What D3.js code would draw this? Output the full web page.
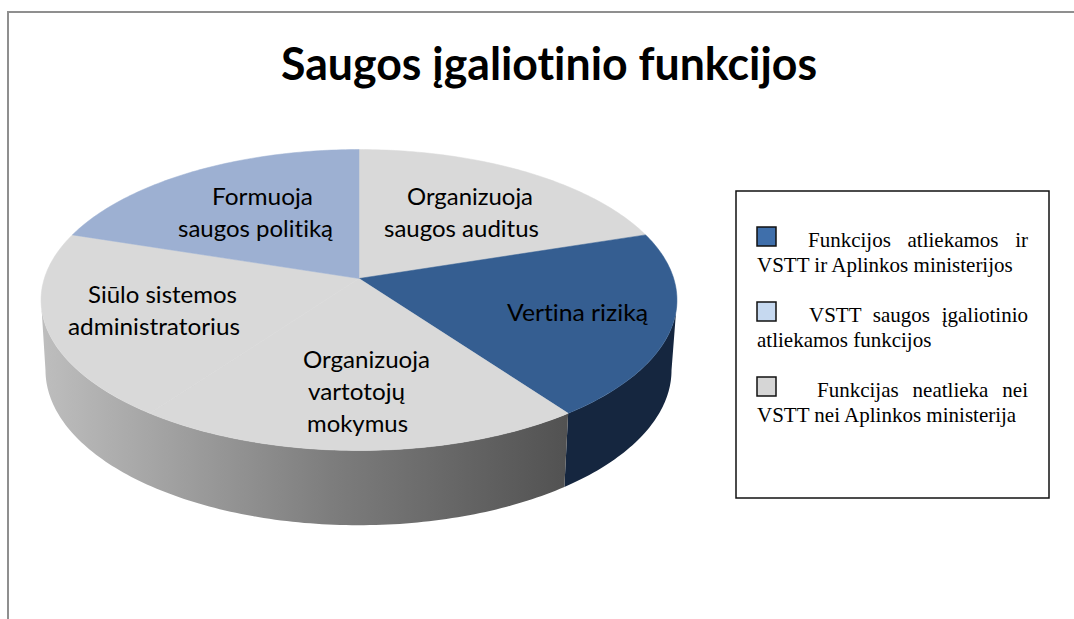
<!DOCTYPE html>
<html>
<head>
<meta charset="utf-8">
<script src="https://cdnjs.cloudflare.com/ajax/libs/d3/7.8.5/d3.min.js"></script>
<style>
  html, body { margin: 0; padding: 0; background: #fff; overflow: hidden; }
  svg { display: block; }
  text { font-variant-ligatures: none; }
</style>
</head>
<body>
<div id="chart"></div>
<script>
// chart data
const chartTitle = "Saugos įgaliotinio funkcijos";
const categories = ["Organizuoja saugos auditus", "Vertina riziką", "Organizuoja vartotojų mokymus", "Siūlo sistemos administratorius", "Formuoja saugos politiką"];
const values = [20, 20, 20, 20, 20];
const sliceGroups = [2, 0, 2, 2, 1];
const legendLines = [
  ["Funkcijos atliekamos ir", "VSTT ir Aplinkos ministerijos"],
  ["VSTT saugos įgaliotinio", "atliekamos funkcijos"],
  ["Funkcijas neatlieka nei", "VSTT nei Aplinkos ministerija"]
];

// colours per legend group
const topColors = ["#355e91", "#9db0d2", "#d9d9d9"];
const legendColors = ["#3f6fab", "#c6d9f0", "#d6d6d6"];

const width = 1074, height = 619;

const svg = d3.select("#chart").append("svg")
  .attr("width", width)
  .attr("height", height);

// outer frame, cut off on the right and bottom
svg.append("path")
  .attr("d", "M8,619V12H1074")
  .attr("fill", "none")
  .attr("stroke", "#8f8f8f")
  .attr("stroke-width", 2);

svg.append("text")
  .attr("x", 281)
  .attr("y", 80)
  .attr("font-family", "Lato")
  .attr("font-weight", "bold")
  .attr("font-size", 45)
  .attr("textLength", 536)
  .attr("lengthAdjust", "spacingAndGlyphs")
  .attr("fill", "#000")
  .text(chartTitle);

// perspective of the 3D disc: same tilt for both planes
const tilt = 0.1429;
const topPlane = { cx: 359, cy: 278.5, rx: 314.7, ry: 147.4 };
const bottomPlane = { cx: 358.5, cy: 348, rx: 309.8, ry: 151.9 };

function project(plane, a) {
  const X = Math.sin(a), Y = -Math.cos(a);
  const k = 1 - tilt * Y;
  return [plane.cx + plane.rx * X / k, plane.cy + plane.ry * Y / k];
}

function rimPoints(plane, a0, a1) {
  const n = Math.max(2, Math.ceil((a1 - a0) * 60));
  return d3.range(n + 1).map(i => project(plane, a0 + (a1 - a0) * i / n));
}

const line = d3.line();
const pie = d3.pie().sort(null).value(d => d);
const slices = pie(values);

// only the front half of the side wall can be seen
const frontStart = Math.acos(-tilt);
const frontEnd = 2 * Math.PI - frontStart;

const defs = svg.append("defs");
const sideGrad = defs.append("linearGradient")
  .attr("id", "sideGrey")
  .attr("gradientUnits", "userSpaceOnUse")
  .attr("x1", 45).attr("x2", 566)
  .attr("y1", 0).attr("y2", 0);
sideGrad.append("stop").attr("offset", 0).attr("stop-color", "#bdbdbd");
sideGrad.append("stop").attr("offset", 0.55).attr("stop-color", "#7d7d7d");
sideGrad.append("stop").attr("offset", 1).attr("stop-color", "#525252");

const sideColors = ["#15263f", null, "url(#sideGrey)"];

// side wall: neighbouring slices of one group are joined, so the gradient has no seam
const sideRuns = [];
slices.forEach((s, i) => {
  const a0 = Math.max(s.startAngle, frontStart);
  const a1 = Math.min(s.endAngle, frontEnd);
  if (a0 >= a1) return;
  const last = sideRuns[sideRuns.length - 1];
  if (last && last.group === sliceGroups[i]) last.a1 = a1;
  else sideRuns.push({ group: sliceGroups[i], a0: a0, a1: a1 });
});

sideRuns.forEach(run => {
  const pts = rimPoints(topPlane, run.a0, run.a1).concat(rimPoints(bottomPlane, run.a0, run.a1).reverse());
  svg.append("path")
    .attr("d", line(pts) + "Z")
    .attr("fill", sideColors[run.group]);
});

// top face
slices.forEach((s, i) => {
  const pts = [[topPlane.cx, topPlane.cy]].concat(rimPoints(topPlane, s.startAngle, s.endAngle));
  svg.append("path")
    .attr("d", line(pts) + "Z")
    .attr("fill", topColors[sliceGroups[i]])
    .attr("stroke", topColors[sliceGroups[i]])
    .attr("stroke-width", 0.5);
});

// slice labels, line by line: [text, left, right, baseline]
const sliceLabels = [
  ["Organizuoja", 407, 533, 205], ["saugos auditus", 384, 539, 237],
  ["Vertina riziką", 507, 648, 321],
  ["Organizuoja", 303, 430, 368], ["vartotojų", 308, 405, 400], ["mokymus", 307, 408, 432],
  ["Siūlo sistemos", 88, 237, 303], ["administratorius", 68, 240, 335],
  ["Formuoja", 212, 313, 205], ["saugos politiką", 178, 333, 237]
];

svg.append("g").selectAll("text")
  .data(sliceLabels)
  .enter()
  .append("text")
  .attr("x", d => d[1])
  .attr("y", d => d[3])
  .attr("font-family", "Lato")
  .attr("font-size", 23)
  .attr("textLength", d => d[2] - d[1])
  .attr("lengthAdjust", "spacingAndGlyphs")
  .attr("fill", "#000")
  .text(d => d[0]);

// legend
svg.append("rect")
  .attr("x", 736).attr("y", 191)
  .attr("width", 313).attr("height", 307)
  .attr("fill", "#fff")
  .attr("stroke", "#111")
  .attr("stroke-width", 1.5);

const legendY = [227, 302, 377];
const firstLineX = [808, 809, 817];
const textRight = 1028;

legendLines.forEach((lines, i) => {
  svg.append("rect")
    .attr("x", 757).attr("y", legendY[i])
    .attr("width", 19).attr("height", 19)
    .attr("fill", legendColors[i])
    .attr("stroke", "#111")
    .attr("stroke-width", 1.5);

  const first = svg.append("text")
    .attr("x", firstLineX[i])
    .attr("y", legendY[i] + 20)
    .attr("font-family", "Liberation Serif")
    .attr("font-size", 21)
    .attr("fill", "#000")
    .text(lines[0]);

  // justified first line: spread the gaps between words
  const gaps = lines[0].split(" ").length - 1;
  const extra = (textRight - firstLineX[i] - first.node().getComputedTextLength()) / gaps;
  first.attr("word-spacing", extra);

  svg.append("text")
    .attr("x", 757)
    .attr("y", legendY[i] + 45)
    .attr("font-family", "Liberation Serif")
    .attr("font-size", 21)
    .attr("fill", "#000")
    .text(lines[1]);
});
</script>
</body>
</html>
